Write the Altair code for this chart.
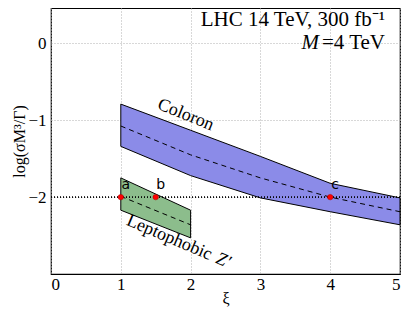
import altair as alt
import pandas as pd

# Coloron band
col_xi = [1, 2, 3, 4, 5]
col_upper = [-0.79, -1.13, -1.47, -1.82, -2.01]
col_lower = [-1.34, -1.72, -2.01, -2.19, -2.36]
col_mid = [-1.075, -1.45, -1.75, -2.0, -2.19]

# Leptophobic Z' band
lep_xi = [1, 2]
lep_upper = [-1.75, -2.17]
lep_lower = [-2.17, -2.53]
lep_mid = [-1.99, -2.36]

# benchmark points
pt_xi = [1.0, 1.5, 4.0]
pt_y = [-2.0, -2.0, -2.0]
pt_lab = ["a", "b", "c"]

x_ticks = [0, 1, 2, 3, 4, 5]
y_ticks = [0, -1, -2]

SERIF = "Liberation Serif"
FS = 18

col_df = pd.DataFrame({"xi": col_xi, "lo": col_lower, "hi": col_upper, "mid": col_mid})
lep_df = pd.DataFrame({"xi": lep_xi, "lo": lep_lower, "hi": lep_upper, "mid": lep_mid})
pt_df = pd.DataFrame({"xi": pt_xi, "y": pt_y, "lab": pt_lab})

xs = alt.Scale(domain=[0, 5], nice=False, zero=False)
ys = alt.Scale(domain=[-3, 0.46], nice=False, zero=False)

xax = alt.Axis(values=x_ticks, title="ξ", grid=True, format="d")
yax = alt.Axis(values=y_ticks, title="log(σM³/Γ)", grid=True, format="d")

X = alt.X("xi:Q", scale=xs, axis=xax)


def Y(field):
    return alt.Y(field, scale=ys, axis=yax)


col_area = alt.Chart(col_df).mark_area(
    color="#8b8be8", opacity=1, stroke="black", strokeWidth=1
).encode(x=X, y=Y("lo:Q"), y2="hi:Q")

lep_area = alt.Chart(lep_df).mark_area(
    color="#8cbd8c", opacity=1, stroke="black", strokeWidth=1
).encode(x=X, y=Y("lo:Q"), y2="hi:Q")

col_line = alt.Chart(col_df).mark_line(color="black", strokeDash=[5, 4], strokeWidth=1).encode(
    x=X, y=Y("mid:Q"))
lep_line = alt.Chart(lep_df).mark_line(color="black", strokeDash=[5, 4], strokeWidth=1).encode(
    x=X, y=Y("mid:Q"))

hrule = alt.Chart(pt_df).mark_rule(color="black", strokeDash=[1, 2], strokeWidth=1).encode(
    y=alt.datum(-2, scale=ys))

pts = alt.Chart(pt_df).mark_point(filled=True, color="red", size=30, opacity=1,
                                  stroke="#aa0000", strokeWidth=0.5).encode(
    x=X, y=Y("y:Q"))

pt_text = alt.Chart(pt_df).mark_text(font="DejaVu Sans", fontSize=14, dx=5, dy=-12,
                                     color="black").encode(
    x=X, y=Y("y:Q"), text="lab:N")

ann_df = pd.DataFrame({
    "xi": [1.93, 2.32, 2.32],
    "y": [-0.93, -2.77, -2.77],
    "t": ["Coloron", "Leptophobic", "Z′"],
})
coloron_t = alt.Chart(ann_df.iloc[[0]]).mark_text(font=SERIF, fontSize=FS, angle=22,
                                                  color="black").encode(
    x=X, y=Y("y:Q"), text="t:N")
lep_t = alt.Chart(ann_df.iloc[[1]]).mark_text(font=SERIF, fontSize=FS, angle=23, dx=-2,
                                              align="right", color="black").encode(
    x=X, y=Y("y:Q"), text="t:N")
lep_z = alt.Chart(ann_df.iloc[[2]]).mark_text(font=SERIF, fontSize=FS, angle=23, dx=4,
                                              align="left", fontStyle="italic",
                                              color="black").encode(
    x=X, y=Y("y:Q"), text="t:N")

top_df = pd.DataFrame({"xi": [4.785, 4.785, 4.785], "y": [0.31, 0.0, 0.0],
                       "t": ["LHC 14 TeV, 300 fb⁻¹", "=4 TeV", "M"]})
top1 = alt.Chart(top_df.iloc[[0, 1]]).mark_text(font=SERIF, fontSize=21, align="right",
                                                color="black").encode(
    x=X, y=Y("y:Q"), text="t:N")
top2 = alt.Chart(top_df.iloc[[2]]).mark_text(font=SERIF, fontSize=21, align="right",
                                             fontStyle="italic", dx=-66,
                                             color="black").encode(
    x=X, y=Y("y:Q"), text="t:N")

chart = alt.layer(
    col_area, lep_area, col_line, lep_line, hrule, pts, pt_text,
    coloron_t, lep_t, lep_z, top1, top2
).properties(
    width=349, height=266,
    autosize=alt.AutoSizeParams(type="none"),
    padding={"left": 43, "top": 0, "right": 3, "bottom": 34},
).configure_view(
    stroke="black", strokeWidth=1.2
).configure_axis(
    labelFont=SERIF, labelFontSize=17, labelColor="black",
    titleFont=SERIF, titleFontSize=16, titleColor="black", titleFontWeight="normal",
    ticks=False, domain=False,
    gridColor="#b0b0b0", gridDash=[1, 2], gridWidth=1,
).configure_axisX(titlePadding=-2, labelPadding=2).configure_axisY(titlePadding=0, labelPadding=5)

chart.save("out.html", embed_options={"renderer": "svg", "actions": False})
